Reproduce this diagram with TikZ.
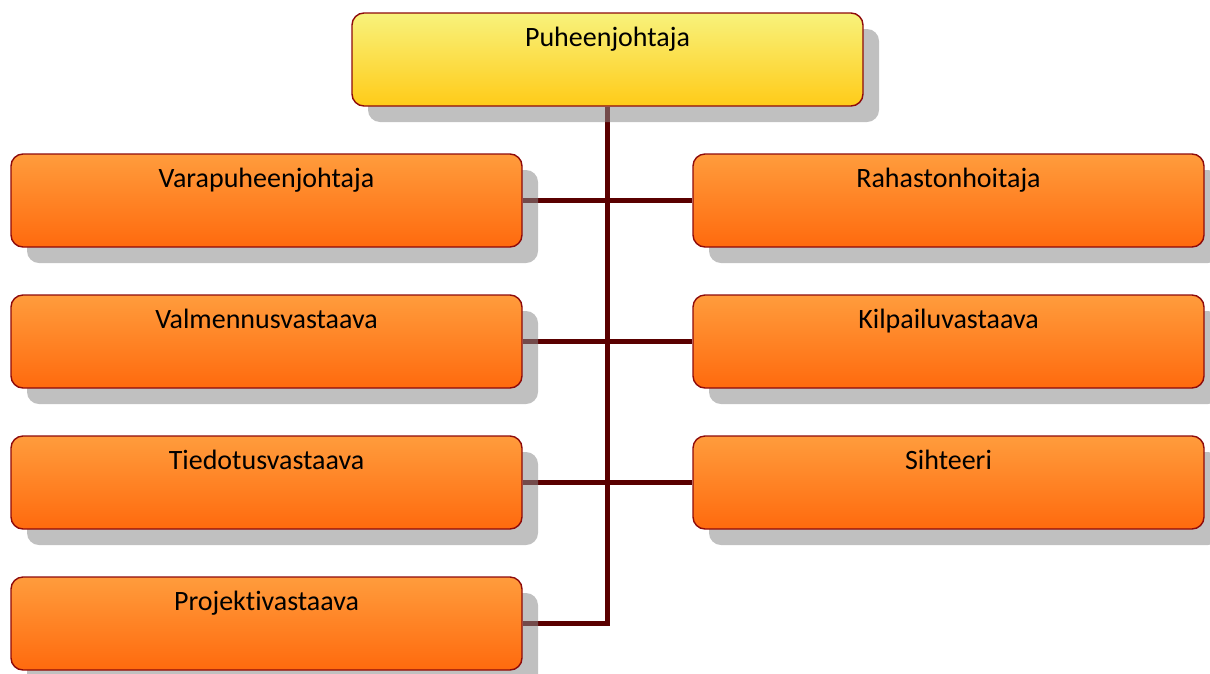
\documentclass[tikz,border=0pt]{standalone}
\usepackage{fontspec}
\setmainfont{Carlito}[Ligatures={NoCommon}]
\usetikzlibrary{shadows,backgrounds}
\definecolor{bordred}{HTML}{8E0A0A}
\definecolor{linered}{HTML}{5A0000}
\definecolor{shadowgray}{HTML}{8A8A8A}
\definecolor{yeltop}{HTML}{F8F27C}
\definecolor{yelmid}{HTML}{F9EC6A}
\definecolor{yelbot}{HTML}{FFCB18}
\definecolor{orgtop}{HTML}{FF9C3C}
\definecolor{orgmid}{HTML}{FF9330}
\definecolor{orgbot}{HTML}{FF6A0E}
\tikzset{
  box/.style={rectangle, rounded corners=12pt, draw=bordred, line width=1.4pt,
    minimum width=511pt, minimum height=93pt, inner xsep=0pt, inner ysep=0pt,
    text height=33pt, text depth=60pt, font=\fontsize{28}{32}\selectfont,
    drop shadow={shadow xshift=16pt, shadow yshift=-16pt, fill=shadowgray, opacity=0.54}},
  chair/.style={box, top color=yeltop, middle color=yelmid, bottom color=yelbot},
  member/.style={box, top color=orgtop, middle color=orgmid, bottom color=orgbot},
  conn/.style={draw=linered, line width=5pt, line join=miter}
}
\begin{document}
\begin{tikzpicture}[x=1pt,y=-1pt]
\useasboundingbox (0,0) rectangle (1210,673);
\node[chair] (pj) at (607.5,59.5) {Puheenjohtaja};
\node[member] (l1) at (266.5,200.5) {Varapuheenjohtaja};
\node[member] (l2) at (266.5,341.5) {Valmennusvastaava};
\node[member] (l3) at (266.5,482.5) {Tiedotusvastaava};
\node[member] (l4) at (266.5,623.5) {Projektivastaava};
\node[member] (r1) at (948.5,200.5) {Rahastonhoitaja};
\node[member] (r2) at (948.5,341.5) {Kilpailuvastaava};
\node[member] (r3) at (948.5,482.5) {Sihteeri};
\begin{scope}[on background layer]
\draw[conn] (pj.south) |- (l4.east);
\draw[conn] (l1.east) -- (r1.west);
\draw[conn] (l2.east) -- (r2.west);
\draw[conn] (l3.east) -- (r3.west);
\end{scope}
\end{tikzpicture}
\end{document}
